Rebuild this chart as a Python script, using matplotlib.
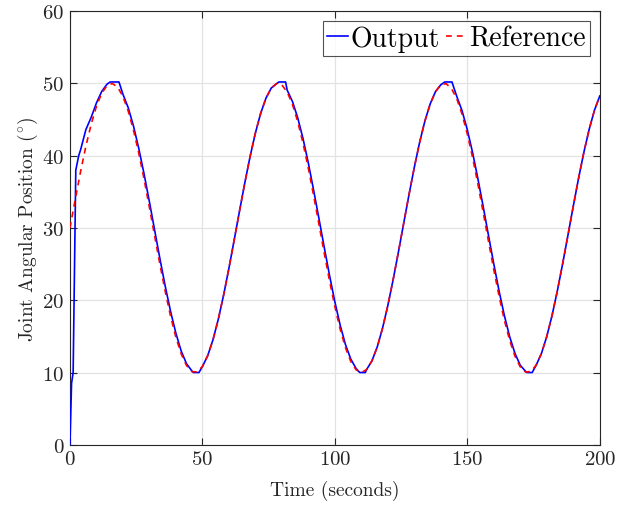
import numpy as np
import matplotlib
matplotlib.use("Agg")
import matplotlib.pyplot as plt

# Reference signal (deg), sampled every 2 s
ref_time = np.arange(0, 201, 2)
ref_vals = [30.00, 33.97, 37.79, 41.29, 44.35, 46.83, 48.64, 49.71, 49.99, 49.48,
            48.19, 46.17, 43.51, 40.31, 36.70, 32.82, 28.83, 24.89, 21.15, 17.76,
            14.86, 12.57, 10.97, 10.13, 10.08, 10.82, 12.33, 14.54, 17.37, 20.71,
            24.41, 28.34, 32.33, 36.23, 39.88, 43.14, 45.87, 47.97, 49.36, 49.97,
            49.79, 48.81, 47.09, 44.69, 41.70, 38.24, 34.46, 30.50, 26.51, 22.67,
            19.12, 16.00, 13.44, 11.54, 10.38, 10.00, 10.42, 11.61, 13.54, 16.13,
            19.27, 22.84, 26.69, 30.67, 34.63, 38.40, 41.84, 44.81, 47.18, 48.87,
            49.81, 49.96, 49.31, 47.90, 45.77, 43.01, 39.75, 36.07, 32.15, 28.16,
            24.22, 20.56, 17.23, 14.44, 12.26, 10.77, 10.06, 10.15, 11.02, 12.65,
            14.98, 17.90, 21.31, 25.06, 29.01, 33.00, 36.87, 40.46, 43.64, 46.28,
            48.26]

# Output signal (deg)
out_time = [0, 0.6, 1.2, 2.2, 3.3, 4, 6, 8, 10, 12, 14, 15.2, 18.5,
            20, 22, 24, 26, 28, 30, 32, 34, 36, 38, 40, 42, 44, 46, 46.6, 48.7,
            50, 52, 54, 56, 58, 60, 62, 64, 66, 68, 70, 72, 74, 76, 78, 78.9, 81.4,
            82, 84, 86, 88, 90, 92, 94, 96, 98, 100, 102, 104, 106, 108, 109.4, 111.5,
            112, 114, 116, 118, 120, 122, 124, 126, 128, 130, 132, 134, 136, 138, 140, 141.5, 144.2,
            146, 148, 150, 152, 154, 156, 158, 160, 162, 164, 166, 168, 170, 172, 172.4, 174.5,
            176, 178, 180, 182, 184, 186, 188, 190, 192, 194, 196, 198, 200]
out_vals = [0, 8.5, 10, 38, 40, 40.8, 43.6, 45.3, 47.3, 48.9, 49.9, 50.2, 50.2,
            48.50, 46.63, 44.08, 40.97, 37.43, 33.61, 29.63, 25.67, 21.88, 18.43, 15.42, 12.96, 11.22, 10.23, 10.0, 10.0,
            10.82, 12.33, 14.54, 17.37, 20.71, 24.41, 28.34, 32.33, 36.23, 39.88, 43.14, 45.87, 47.97, 49.36, 49.97, 50.2, 50.2,
            49.07, 47.49, 45.22, 42.34, 38.96, 35.20, 31.29, 27.30, 23.42, 19.79, 16.56, 13.87, 11.87, 10.56, 10.0, 10.0,
            10.42, 11.61, 13.54, 16.13, 19.27, 22.84, 26.69, 30.67, 34.63, 38.40, 41.84, 44.81, 47.18, 48.87, 49.81, 50.2, 50.2,
            48.23, 46.24, 43.60, 40.42, 36.82, 32.95, 28.96, 25.02, 21.27, 17.86, 14.95, 12.64, 11.00, 10.16, 10.0, 10.0,
            11.02, 12.65, 14.98, 17.90, 21.31, 25.06, 29.01, 33.00, 36.87, 40.46, 43.64, 46.28, 48.26]

x_ticks = [0, 50, 100, 150, 200]
y_ticks = [0, 10, 20, 30, 40, 50, 60]

plt.rcParams['font.family'] = ['cmr10', 'DejaVu Serif']
plt.rcParams['mathtext.fontset'] = 'cm'
plt.rcParams['axes.formatter.use_mathtext'] = True

fig = plt.figure(figsize=(6.36, 5.06), dpi=100)
ax = fig.add_axes([0.110, 0.119, 0.833, 0.857])

ax.plot(out_time, out_vals, color='#0000ff', lw=1.2, label='Output', zorder=3)
ax.plot(ref_time, ref_vals, color='#ff0000', lw=1.2, ls=(0, (3.5, 3)), label='Reference', zorder=4)

ax.set_xlim(0, 200)
ax.set_ylim(0, 60)
ax.set_xticks(x_ticks)
ax.set_yticks(y_ticks)
ax.grid(True, color='#e3e3e3', lw=0.9)
ax.set_axisbelow(True)
ax.tick_params(direction='in', top=True, right=True, length=5, width=0.8,
               colors='#262626', labelsize=15, labelcolor='#262626', pad=4)
for s in ax.spines.values():
    s.set_color('#262626')
    s.set_linewidth(0.8)

ax.set_xlabel('Time (seconds)', fontsize=14, color='#262626', labelpad=8)
ax.set_ylabel(r'Joint Angular Position $(^{\circ})$', fontsize=14, color='#262626', labelpad=2)

leg = ax.legend(loc='upper right', ncol=2, fontsize=20, frameon=True, fancybox=False,
                handlelength=0.75, handletextpad=0.1, columnspacing=0.2, borderpad=0.15,
                borderaxespad=0.35)
leg.get_frame().set_edgecolor('#262626')
leg.get_frame().set_linewidth(0.8)

fig.savefig('out.png', dpi=100)
